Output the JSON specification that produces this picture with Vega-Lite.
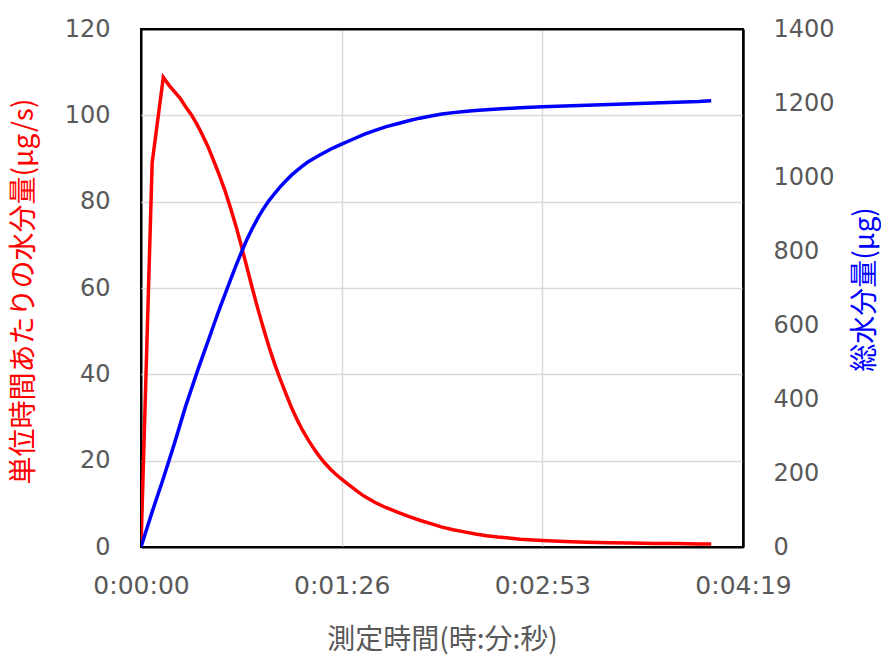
{
  "$schema": "https://vega.github.io/schema/vega-lite/v6.json",
  "autosize": {"type": "none"},
  "width": 602,
  "height": 518,
  "padding": {"left": 141, "top": 29, "right": 138, "bottom": 112},
  "background": "white",
  "config": {
    "view": {"stroke": "black", "strokeWidth": 2},
    "axis": {
      "labelFont": "DejaVu Sans",
      "labelFontSize": 24,
      "labelColor": "#595959",
      "titleFont": "Noto Sans CJK JP",
      "titleFontWeight": "normal",
      "ticks": false,
      "domain": false
    }
  },
  "datasets": {
    "rate": [
      {"t": 0, "v": 0}, {"t": 4.8, "v": 89}, {"t": 9.6, "v": 108.8}, {"t": 12, "v": 107}, {"t": 14.4, "v": 105.5},
      {"t": 16.8, "v": 104}, {"t": 19.2, "v": 102}, {"t": 21.6, "v": 100.2}, {"t": 24, "v": 98}, {"t": 26.4, "v": 95.5},
      {"t": 28.8, "v": 92.8}, {"t": 31.2, "v": 89.6}, {"t": 33.6, "v": 86.3}, {"t": 36, "v": 82.8}, {"t": 38.4, "v": 78.8},
      {"t": 40.8, "v": 74.5}, {"t": 43.2, "v": 69.8}, {"t": 45.6, "v": 64.8}, {"t": 48, "v": 59.8}, {"t": 50.4, "v": 55},
      {"t": 52.8, "v": 50.5}, {"t": 55.2, "v": 46.2}, {"t": 57.6, "v": 42.3}, {"t": 60, "v": 38.8}, {"t": 62.4, "v": 35.5},
      {"t": 64.8, "v": 32.3}, {"t": 67.2, "v": 29.5}, {"t": 69.6, "v": 27}, {"t": 72, "v": 24.8}, {"t": 74.4, "v": 22.8},
      {"t": 76.8, "v": 21}, {"t": 79.2, "v": 19.4}, {"t": 81.6, "v": 18}, {"t": 84, "v": 16.8}, {"t": 86.4, "v": 15.7},
      {"t": 88.8, "v": 14.7}, {"t": 91.2, "v": 13.7}, {"t": 93.6, "v": 12.7}, {"t": 96, "v": 11.8}, {"t": 100.8, "v": 10.3},
      {"t": 105.6, "v": 9.1}, {"t": 110.4, "v": 8.1}, {"t": 115.2, "v": 7.1}, {"t": 120, "v": 6.2}, {"t": 124.8, "v": 5.4},
      {"t": 129.6, "v": 4.6}, {"t": 134.4, "v": 4.0}, {"t": 139.2, "v": 3.5}, {"t": 144, "v": 3.0}, {"t": 148.8, "v": 2.6},
      {"t": 153.6, "v": 2.3}, {"t": 158.4, "v": 2.1}, {"t": 163.2, "v": 1.8}, {"t": 172.8, "v": 1.5}, {"t": 182.4, "v": 1.3},
      {"t": 192, "v": 1.1}, {"t": 201.6, "v": 1.0}, {"t": 211.2, "v": 0.9}, {"t": 220.8, "v": 0.8}, {"t": 230.4, "v": 0.8},
      {"t": 240, "v": 0.7}, {"t": 245.5, "v": 0.7}
    ],
    "total": [
      {"t": 0, "w": 0}, {"t": 4.8, "w": 95}, {"t": 9.6, "w": 185}, {"t": 14.4, "w": 280}, {"t": 19.2, "w": 380},
      {"t": 24, "w": 470}, {"t": 26.4, "w": 513}, {"t": 28.8, "w": 555}, {"t": 31.2, "w": 598}, {"t": 33.6, "w": 640},
      {"t": 36, "w": 680}, {"t": 38.4, "w": 720}, {"t": 40.8, "w": 759}, {"t": 43.2, "w": 796}, {"t": 45.6, "w": 831},
      {"t": 48, "w": 862}, {"t": 50.4, "w": 890}, {"t": 52.8, "w": 915}, {"t": 55.2, "w": 937}, {"t": 57.6, "w": 956},
      {"t": 60, "w": 974}, {"t": 62.4, "w": 990}, {"t": 64.8, "w": 1005}, {"t": 67.2, "w": 1018}, {"t": 69.6, "w": 1030},
      {"t": 72, "w": 1041}, {"t": 74.4, "w": 1050}, {"t": 76.8, "w": 1059}, {"t": 79.2, "w": 1067}, {"t": 81.6, "w": 1075},
      {"t": 84, "w": 1082}, {"t": 86.4, "w": 1089}, {"t": 91.2, "w": 1102}, {"t": 96, "w": 1115}, {"t": 100.8, "w": 1126},
      {"t": 105.6, "w": 1136}, {"t": 110.4, "w": 1144}, {"t": 115.2, "w": 1152}, {"t": 120, "w": 1159}, {"t": 124.8, "w": 1165},
      {"t": 129.6, "w": 1170}, {"t": 134.4, "w": 1174}, {"t": 139.2, "w": 1177}, {"t": 144, "w": 1180}, {"t": 153.6, "w": 1184},
      {"t": 163.2, "w": 1187}, {"t": 172.8, "w": 1190}, {"t": 182.4, "w": 1192}, {"t": 192, "w": 1194}, {"t": 201.6, "w": 1196},
      {"t": 211.2, "w": 1198}, {"t": 220.8, "w": 1200}, {"t": 230.4, "w": 1202}, {"t": 240, "w": 1204}, {"t": 245.5, "w": 1206}
    ]
  },
  "layer": [
    {
      "data": {"name": "rate"},
      "mark": {"type": "line", "color": "#ff0000", "strokeWidth": 3.5, "clip": true},
      "encoding": {
        "x": {
          "field": "t", "type": "quantitative",
          "scale": {"domain": [0, 259.2], "nice": false, "zero": false},
          "axis": {
            "values": [0, 86.4, 172.8, 259.2],
            "labelExpr": "'0:' + format(floor(round(datum.value)/60), '02d') + ':' + format(round(datum.value)%60, '02d')",
            "labelFontSize": 25,
            "labelPadding": 26,
            "labelFlush": false,
            "grid": true,
            "gridColor": {"condition": {"test": "datum.value == 0 || datum.value > 259", "value": "black"}, "value": "#d9d9d9"},
            "gridWidth": {"condition": {"test": "datum.value == 0 || datum.value > 259", "value": 2}, "value": 1.5},
            "title": "測定時間(時:分:秒)",
            "titleFontSize": 28,
            "titleColor": "#595959",
            "titleX": 301,
            "titleY": 93,
            "titleBaseline": "middle"
          }
        },
        "y": {
          "field": "v", "type": "quantitative",
          "scale": {"domain": [0, 120], "nice": false},
          "axis": {
            "values": [0, 20, 40, 60, 80, 100, 120],
            "labelPadding": 31,
            "grid": true,
            "gridColor": {"condition": {"test": "datum.value == 0 || datum.value == 120", "value": "black"}, "value": "#d9d9d9"},
            "gridWidth": {"condition": {"test": "datum.value == 0 || datum.value == 120", "value": 2}, "value": 1.5},
            "title": "単位時間あたりの水分量(µg/s)",
            "titleFontSize": 28,
            "titleColor": "#ff0000",
            "titleAngle": -90,
            "titleX": -117,
            "titleY": 262,
            "titleBaseline": "middle",
            "titleAlign": "center"
          }
        }
      }
    },
    {
      "data": {"name": "total"},
      "mark": {"type": "line", "color": "#0000ff", "strokeWidth": 3.5, "clip": true},
      "encoding": {
        "x": {"field": "t", "type": "quantitative"},
        "y": {
          "field": "w", "type": "quantitative",
          "scale": {"domain": [0, 1400], "nice": false},
          "axis": {
            "orient": "right",
            "values": [0, 200, 400, 600, 800, 1000, 1200, 1400],
            "format": "d",
            "labelPadding": 30,
            "grid": false,
            "domain": true,
            "domainColor": "black",
            "domainWidth": 2,
            "title": "総水分量(µg)",
            "titleFontSize": 28,
            "titleColor": "#0000ff",
            "titleAngle": -90,
            "titleX": 122,
            "titleY": 260,
            "titleBaseline": "middle",
            "titleAlign": "center"
          }
        }
      }
    }
  ],
  "resolve": {"scale": {"y": "independent"}}
}
